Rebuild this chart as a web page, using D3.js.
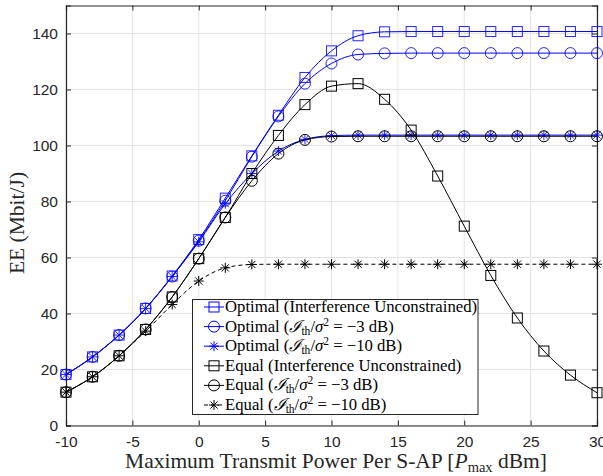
<!DOCTYPE html>
<html><head><meta charset="utf-8">
<script src="https://cdn.jsdelivr.net/npm/d3@7"></script>
<style>body{margin:0;background:#fff}svg{display:block}</style>
</head><body>
<svg id="c" width="603" height="476"></svg>
<script>
const xVals = [-10,-8,-6,-4,-2,0,2,4,6,8,10,12,14,16,18,20,22,24,26,28,30];
const optUncon = [18.2,24.5,32.3,41.8,53.4,66.4,81.2,96.3,110.8,124.3,133.8,139.2,140.6,140.7,140.7,140.7,140.7,140.7,140.7,140.7,140.7];
const optM3    = [18.2,24.5,32.3,41.8,53.2,66.0,80.3,96.0,110.4,122.1,129.3,132.5,132.9,133.0,133.0,133.0,133.0,133.0,133.0,133.0,133.0];
const optM10   = [18.2,24.5,32.3,41.8,53.2,65.6,79.2,90.0,98.0,102.2,103.5,103.7,103.7,103.7,103.7,103.7,103.7,103.7,103.7,103.7,103.7];
const eqUncon  = [11.9,17.4,24.9,34.3,45.9,59.6,74.3,90.0,103.6,114.6,121.2,122.1,116.5,105.5,89.1,71.2,53.6,38.4,26.6,18.0,11.7];
const eqM3     = [11.9,17.4,24.9,34.3,45.9,59.6,74.3,87.4,97.1,102.0,103.2,103.3,103.3,103.3,103.3,103.3,103.3,103.3,103.3,103.3,103.3];
const eqM10    = [11.9,17.4,24.9,33.7,43.2,51.6,56.3,57.5,57.6,57.6,57.6,57.6,57.6,57.6,57.6,57.6,57.6,57.6,57.6,57.6,57.6];
const xTicks = [-10,-5,0,5,10,15,20,25,30];
const yTicks = [0,20,40,60,80,100,120,140];

const series = [
  {v: optUncon, color:"#0000ff", marker:"square", dash:null, lead:"Optimal", kind:"u"},
  {v: optM3,    color:"#0000ff", marker:"circle", dash:null, lead:"Optimal", kind:"-3"},
  {v: optM10,   color:"#0000ff", marker:"star",   dash:null, lead:"Optimal", kind:"-10"},
  {v: eqUncon,  color:"#000000", marker:"square", dash:null, lead:"Equal", kind:"u"},
  {v: eqM3,     color:"#000000", marker:"circle", dash:null, lead:"Equal", kind:"-3"},
  {v: eqM10,    color:"#000000", marker:"star",   dash:"4,3", lead:"Equal", kind:"-10"}
];

const svg = d3.select("#c");
const L=66, R=597, T=5.5, B=425.5;
const x = d3.scaleLinear().domain([-10,30]).range([L,R]);
const y = d3.scaleLinear().domain([0,150]).range([B,T]);

// grid
const g = svg.append("g");
g.selectAll(".gx").data(xTicks).enter().append("line")
  .attr("x1",d=>x(d)).attr("x2",d=>x(d)).attr("y1",T).attr("y2",B)
  .attr("stroke","#e3e3e3").attr("stroke-width",1);
g.selectAll(".gy").data(yTicks).enter().append("line")
  .attr("y1",d=>y(d)).attr("y2",d=>y(d)).attr("x1",L).attr("x2",R)
  .attr("stroke","#e3e3e3").attr("stroke-width",1);

// axes
const tickCol = "#262626";
const xa = svg.append("g").attr("transform",`translate(0,${B})`)
  .call(d3.axisBottom(x).tickValues(xTicks).tickSize(-5).tickPadding(10).tickFormat(d3.format("d")));
const ya = svg.append("g").attr("transform",`translate(${L},0)`)
  .call(d3.axisLeft(y).tickValues(yTicks).tickSize(-5).tickPadding(8).tickFormat(d3.format("d")));
const xt = svg.append("g").attr("transform",`translate(0,${T})`)
  .call(d3.axisTop(x).tickValues(xTicks).tickSize(-5).tickFormat(""));
const yr = svg.append("g").attr("transform",`translate(${R},0)`)
  .call(d3.axisRight(y).tickValues(yTicks).tickSize(-5).tickFormat(""));
[xa,ya,xt,yr].forEach(a=>{
  a.selectAll("path.domain").attr("stroke",tickCol).attr("stroke-width",1.2);
  a.selectAll(".tick line").attr("stroke",tickCol);
  a.selectAll("text").attr("font-family","Liberation Sans, Arial, sans-serif").attr("font-size",15.5).attr("fill",tickCol);
});
xa.selectAll(".tick text").text(d=> d<0 ? "-"+Math.abs(d) : d);

// lines
const line = d3.line().x((d,i)=>x(xVals[i])).y(d=>y(d)).curve(d3.curveMonotoneX);
const plot = svg.append("g");

function drawMarker(sel, type, color, size){
  const h=size/2;
  if(type==="square"){
    sel.append("rect").attr("x",-h).attr("y",-h).attr("width",size).attr("height",size)
      .attr("fill","none").attr("stroke",color).attr("stroke-width",1);
  } else if(type==="circle"){
    sel.append("circle").attr("r",h+0.5).attr("fill","none").attr("stroke",color).attr("stroke-width",1);
  } else {
    const p = `M${-h},0L${h},0M0,${-h}L0,${h}M${-h*0.72},${-h*0.72}L${h*0.72},${h*0.72}M${-h*0.72},${h*0.72}L${h*0.72},${-h*0.72}`;
    sel.append("path").attr("d",p).attr("stroke",color).attr("stroke-width",1).attr("fill","none");
  }
}

series.forEach(s=>{
  plot.append("path").attr("d",line(s.v)).attr("fill","none")
    .attr("stroke",s.color).attr("stroke-width",1).attr("stroke-dasharray",s.dash);
  s.v.forEach((v,i)=>{
    const m = plot.append("g").attr("transform",`translate(${x(xVals[i])},${y(v)})`)
      .attr("opacity", s.color==="#0000ff"?0.85:1);
    drawMarker(m, s.marker, s.color, 10);
  });
});

// legend
const lg = svg.append("g");
lg.append("rect").attr("x",192.5).attr("y",299.5).attr("width",285.5).attr("height",115)
  .attr("fill","#fff").attr("stroke","#262626").attr("stroke-width",1);
const serif = "Liberation Serif, Times New Roman, serif";
series.forEach((s,i)=>{
  const yy = 307 + i*19.6;
  lg.append("line").attr("x1",204).attr("x2",224).attr("y1",yy).attr("y2",yy)
    .attr("stroke",s.color).attr("stroke-width",1).attr("stroke-dasharray",s.dash);
  const m = lg.append("g").attr("transform",`translate(214,${yy})`);
  drawMarker(m, s.marker, s.color, 10);
  const t = lg.append("text").attr("x",225).attr("y",yy+5).attr("font-family",serif)
    .attr("font-size",16.7).attr("fill","#000");
  if(s.kind==="u"){
    t.text(s.lead+" (Interference Unconstrained)");
  } else {
    t.append("tspan").text(s.lead+" (");
    t.append("tspan").text("ℐ").attr("font-style","italic");
    t.append("tspan").text("th").attr("font-size",11.5).attr("dy",3);
    t.append("tspan").text("/").attr("dy",-3);
    t.append("tspan").text("σ").attr("font-style","italic");
    t.append("tspan").text("2").attr("font-size",11.5).attr("dy",-6);
    t.append("tspan").text(" = −"+(s.kind==="-3"?"3":"10")+" dB)").attr("dy",6);
  }
});

// axis labels
svg.append("text").attr("transform",`translate(24,223) rotate(-90)`)
  .attr("text-anchor","middle").attr("font-family",serif).attr("font-size",21.5).attr("fill","#262626")
  .text("EE (Mbit/J)");
const xl = svg.append("text").attr("x",336).attr("y",468).attr("text-anchor","middle")
  .attr("font-family",serif).attr("font-size",21.5).attr("fill","#262626");
xl.append("tspan").text("Maximum Transmit Power Per S-AP [");
xl.append("tspan").text("P").attr("font-style","italic");
xl.append("tspan").text("max").attr("font-size",14.5).attr("dy",4);
xl.append("tspan").text(" dBm]").attr("dy",-4);
</script>
</body></html>
